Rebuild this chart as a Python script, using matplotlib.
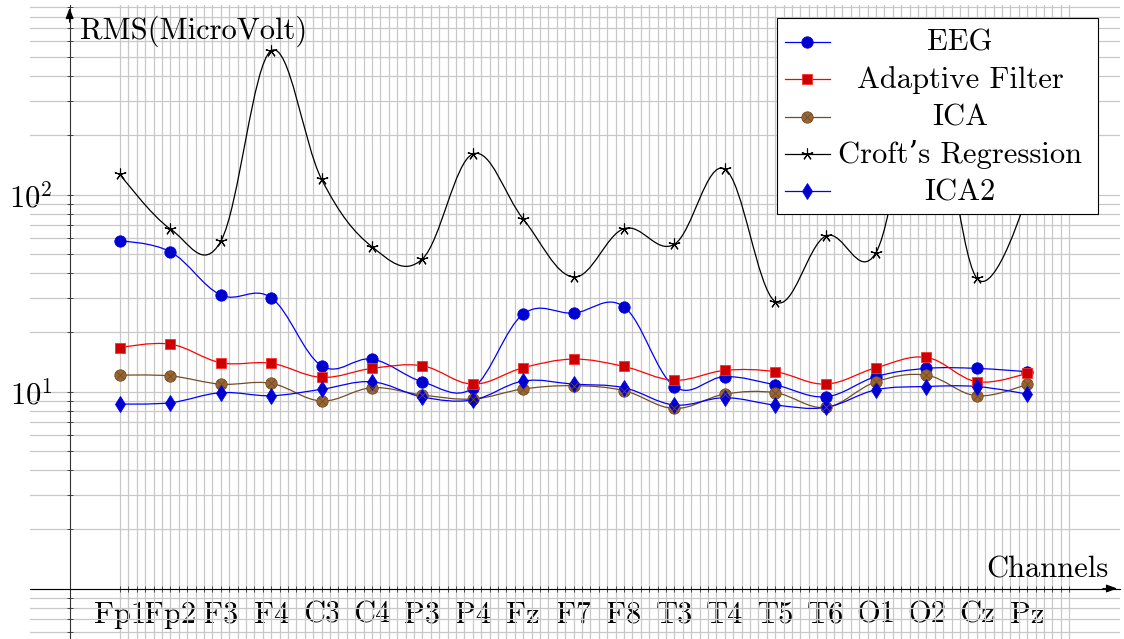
import numpy as np
import matplotlib
matplotlib.use("Agg")
import matplotlib.pyplot as plt
from matplotlib.path import Path
from matplotlib.patches import PathPatch, Rectangle
from matplotlib.lines import Line2D
from matplotlib.ticker import NullFormatter

plt.rcParams["font.family"] = ["cmr10", "DejaVu Serif"]
plt.rcParams["mathtext.fontset"] = "cm"
plt.rcParams["axes.formatter.use_mathtext"] = True

channels = ["Fp1", "Fp2", "F3", "F4", "C3", "C4", "P3", "P4", "Fz", "F7",
            "F8", "T3", "T4", "T5", "T6", "O1", "O2", "Cz", "Pz"]
eeg = [58.1, 51.2, 30.9, 29.9, 13.5, 14.6, 11.2, 10.4, 24.7, 25.0,
       26.9, 10.6, 11.9, 10.8, 9.4, 11.9, 13.1, 13.1, 12.6]
adaptive_filter = [16.7, 17.4, 14.0, 13.9, 11.8, 13.1, 13.5, 10.9, 13.2, 14.6,
                   13.4, 11.4, 12.8, 12.6, 10.9, 13.2, 14.9, 11.2, 12.4]
ica = [12.1, 12.0, 10.9, 11.0, 8.95, 10.45, 9.6, 9.16, 10.3, 10.7,
       10.1, 8.2, 9.7, 9.86, 8.3, 11.2, 12.1, 9.5, 10.9]
crofts_regression = [126.6, 66.8, 57.9, 537.0, 119.4, 54.3, 47.1, 160.6, 75.1, 38.1,
                     67.1, 55.9, 134.7, 28.6, 61.5, 50.7, 450.0, 37.6, 100.0]
ica2 = [8.64, 8.77, 9.86, 9.52, 10.26, 11.2, 9.38, 9.06, 11.3, 10.9,
        10.45, 8.54, 9.3, 8.54, 8.3, 10.2, 10.6, 10.6, 9.7]

W, H = 1124, 639
FS = 22
# pixel layout read off the target: y-axis column, channel spacing,
# row of 10^0 and height of one decade
X0_PX, DX_PX = 69.6, 50.4
Y1_PX, DEC_PX = 588.5, 197.0


def px_to_x(px):
    return (px - X0_PX) / DX_PX


def px_to_y(py):
    return 10 ** ((Y1_PX - py) / DEC_PX)


def smooth_path(x, y, tension=0.18):
    # tikz "smooth": cubic bezier pieces, control points built in (x, log y)
    pts = np.column_stack([np.asarray(x, float), np.log10(y)])
    n = len(pts)
    verts = [pts[0]]
    codes = [Path.MOVETO]
    for i in range(n - 1):
        c1 = pts[i] if i == 0 else pts[i] + tension * (pts[i + 1] - pts[i - 1])
        c2 = pts[i + 1] if i + 2 >= n else pts[i + 1] - tension * (pts[i + 2] - pts[i])
        verts += [c1, c2, pts[i + 1]]
        codes += [Path.CURVE4] * 3
    verts = np.array(verts)
    verts[:, 1] = 10 ** verts[:, 1]
    return Path(verts, codes)


series = [
    ("EEG", eeg, dict(color="#0000ff", marker="o", ms=8.2, mfc="#0000cc", mec="#0000ff")),
    ("Adaptive Filter", adaptive_filter, dict(color="#ff0000", marker="s", ms=7.6, mfc="#cc0000", mec="#ff3030")),
    ("ICA", ica, dict(color="#734d26", marker="o", ms=8.2, mfc="#996633", mec="#734d26")),
    ("Croft\u2019s Regression", crofts_regression, dict(color="black", marker=(5, 2, 0), ms=8.5, mfc="black", mec="black", mew=0.8)),
    ("ICA2", ica2, dict(color="#0000ff", marker="d", ms=8.0, mfc="#0000cc", mec="#0000ff")),
]

fig = plt.figure(figsize=(W / 100, H / 100), dpi=100)
left, right, top, bottom = 30, 1120, 5, 650
ax = fig.add_axes([left / W, 1 - bottom / H, (right - left) / W, (bottom - top) / H])
ax.set_yscale("log")
ax.set_xlim(px_to_x(left), px_to_x(right))
ax.set_ylim(px_to_y(bottom), px_to_y(top))

xs = np.arange(1, len(channels) + 1)
for label, vals, st in series:
    ax.add_patch(PathPatch(smooth_path(xs, vals), fill=False, edgecolor=st["color"], lw=0.9, zorder=2))
    ax.plot(xs, vals, linestyle="none", marker=st["marker"], ms=st["ms"],
            mfc=st["mfc"], mec=st["mec"], mew=st.get("mew", 0.6), zorder=3)
    if label == "ICA":
        ax.plot(xs, vals, linestyle="none", marker="x", ms=5.2, mec="#734d26", mew=0.6, zorder=3.1)

# ticks and grid
ks = np.arange(6, 120)
ax.set_xticks(xs, channels)
ax.set_xticks(ks[ks % 6 != 0] / 6, minor=True)
ax.set_yticks([1, 10, 100], ["", r"$10^{1}$", r"$10^{2}$"])
ax.set_yticks([m * 10.0 ** e for e in (-1, 0, 1, 2) for m in range(2, 10) if 0.48 < m * 10.0 ** e < 920], minor=True)
ax.yaxis.set_minor_formatter(NullFormatter())
ax.grid(True, which="both", color="#c8c8c8", lw=0.9)
ax.tick_params(axis="both", which="both", direction="inout", length=4.3, width=0.7, color="#444444", labelsize=FS)
ax.tick_params(axis="x", pad=7)
ax.tick_params(axis="y", pad=10)

for s in ("top", "right"):
    ax.spines[s].set_visible(False)
ax.spines["left"].set_position(("data", 0))
ax.spines["bottom"].set_position(("data", 1))
ax.spines["left"].set_color("#333333")
ax.spines["left"].set_linewidth(0.8)
ax.spines["bottom"].set_linewidth(0.8)
ax.patch.set_alpha(0)

arrow = dict(arrowstyle="-|>,head_length=0.6,head_width=0.22", color="black", lw=0.8, mutation_scale=11)
ax.annotate("", xy=(px_to_x(right), 1), xytext=(px_to_x(right - 20), 1), arrowprops=arrow, annotation_clip=False)
ax.annotate("", xy=(0, px_to_y(top)), xytext=(0, px_to_y(top + 20)), arrowprops=arrow, annotation_clip=False)

fig.text(80 / W, 1 - 39 / H, "RMS(MicroVolt)", fontsize=FS, ha="left", va="baseline")
fig.text(1108 / W, 1 - 578 / H, "Channels", fontsize=FS, ha="right", va="baseline")

# legend box, tikz style: centred entries
lx0, ly0, lx1, ly1 = 776.7, 18.3, 1097.7, 214.3
fig.add_artist(Rectangle((lx0 / W, 1 - ly1 / H), (lx1 - lx0) / W, (ly1 - ly0) / H,
                         transform=fig.transFigure, facecolor="white", edgecolor="black", lw=0.8, zorder=10))
for k, (label, vals, st) in enumerate(series):
    yrow = 41.7 + k * 37.4
    hx = np.array([785, 807.5, 830]) / W
    hy = np.full(3, 1 - yrow / H)
    fig.add_artist(Line2D(hx, hy, transform=fig.transFigure, color=st["color"], lw=0.9,
                          marker=st["marker"], markevery=[1], ms=st["ms"], mfc=st["mfc"],
                          mec=st["mec"], mew=st.get("mew", 0.6), zorder=11))
    if label == "ICA":
        fig.add_artist(Line2D(hx[1:2], hy[1:2], transform=fig.transFigure, linestyle="none",
                              marker="x", ms=5.2, mec="#734d26", mew=0.6, zorder=12))
    fig.text(960 / W, 1 - (yrow + 9) / H, label, fontsize=FS, ha="center", va="baseline", zorder=12)

fig.savefig("out.png", dpi=100)
